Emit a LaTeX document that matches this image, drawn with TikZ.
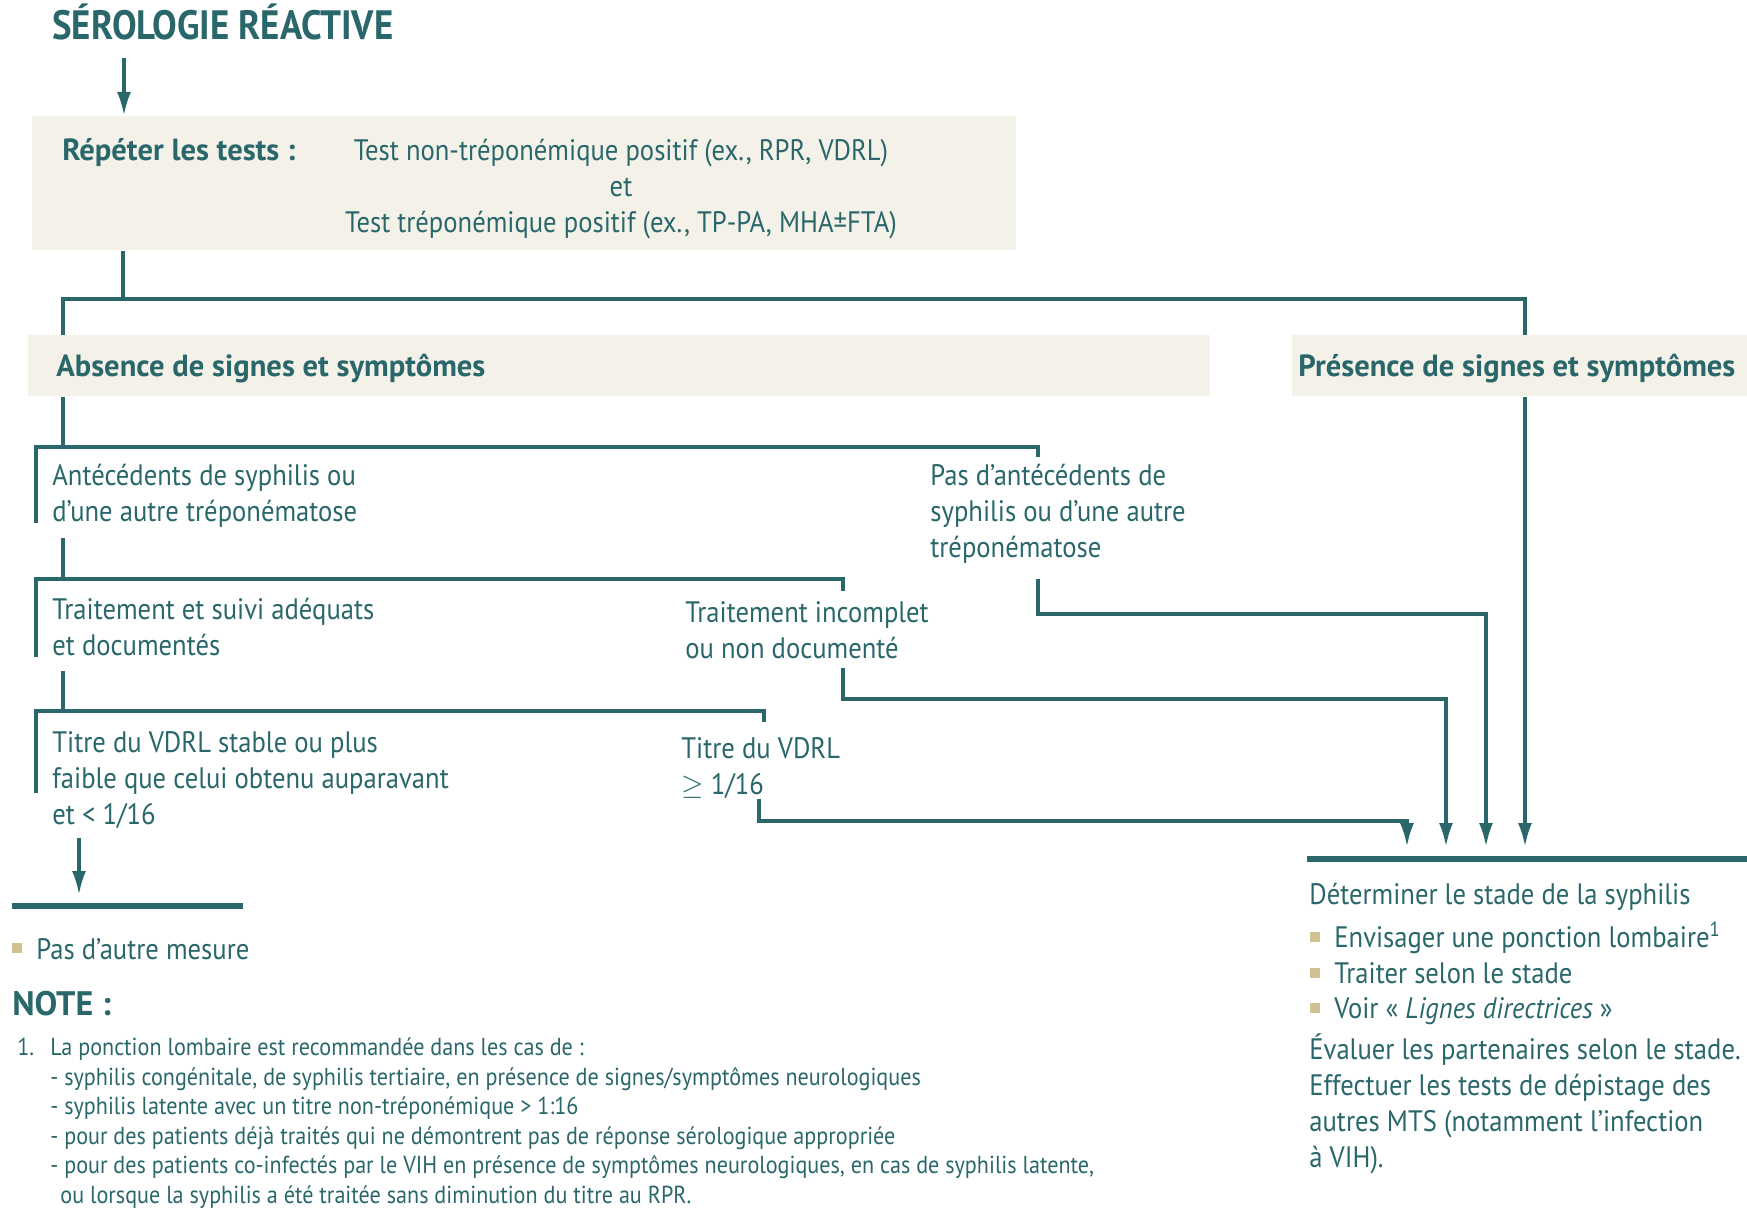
\documentclass[tikz,border=0pt]{standalone}
\usepackage{fontspec}
\setmainfont[FakeStretch=0.9]{PT Sans}
\newfontfamily\grasfont{PT Sans}
\usetikzlibrary{arrows.meta}
\definecolor{sero}{RGB}{41,103,106}
\definecolor{boxfill}{RGB}{244,241,233}
\definecolor{tan}{RGB}{207,193,145}

\begin{document}
\begin{tikzpicture}[x=0.5pt,y=-0.5pt,
    line/.style={sero, line width=1.8pt},
    bar/.style={sero, line width=2.8pt},
    fleche/.style={line, -{Latex[length=12pt,width=7pt]}},
    txt/.style={text=sero, anchor=base west, align=left, inner sep=0pt,
      font=\fontsize{14.8}{18}\selectfont},
    gras/.style={txt, font=\fontsize{15.3}{18}\selectfont\grasfont\bfseries},
    titre/.style={txt, font=\fontsize{20.5}{24}\selectfont\bfseries},
    note/.style={txt, font=\fontsize{12.3}{14.75}\selectfont},
    fond/.style={fill=boxfill, anchor=north west, inner sep=0pt},
    puce/.style={fill=tan, minimum size=5pt, inner sep=0pt}]
  \useasboundingbox (0,0) rectangle (1747,1208);

  % Titre et premier cadre
  \node[titre] (sero) at (52,40) {SÉROLOGIE RÉACTIVE};
  \node[fond, minimum width=492pt, minimum height=67pt] (repeter) at (32,116) {};
  \node[gras] (repeterlbl) at (62,161) {Répéter les tests :};
  \node[txt, anchor=base, align=center] (tests) at (621,233)
    {Test non-tréponémique positif (ex., RPR, VDRL)\\et\\Test tréponémique positif (ex., TP-PA, MHA±FTA)};
  \coordinate (d0) at (124,58);
  \draw[fleche] (d0) -- (d0 |- repeter.north);

  % Absence / presence
  \node[fond, minimum width=591pt, minimum height=30.5pt] (absence) at (28,335) {};
  \node[fond, minimum width=227.5pt, minimum height=30.5pt] (presence) at (1292,335) {};
  \node[gras] (absencelbl) at (56,377) {Absence de signes et symptômes};
  \node[gras] (presencelbl) at (1298,377) {Présence de signes et symptômes};
  \coordinate (d1) at (123,299);
  \coordinate (g1) at (63,299);
  \coordinate (r1) at (1525,299);
  \draw[line] (repeter.south -| d1) -- (d1);
  \draw[line] (absence.north -| g1) -- (g1) -- (r1) -- (presence.north -| r1);

  % Antecedents
  \coordinate (g2) at (63,447);
  \coordinate (b2g) at (36,447);
  \coordinate (b2d) at (1038,447);
  \draw[line] (absence.south -| g2) -- (g2);
  \draw[line] ([yshift=-38]b2g) -- (b2g) -- (b2d) -- ++(0,10);
  \node[txt] (antec) at (52,522) {Antécédents de syphilis ou\\d'une autre tréponématose};
  \node[txt] (pasantec) at (930,558) {Pas d'antécédents de\\syphilis ou d'une autre\\tréponématose};

  % Traitement
  \coordinate (g3) at (63,538);
  \coordinate (b3g) at (36,579);
  \coordinate (b3d) at (843,579);
  \draw[line] (g3) -- (g3 |- b3g);
  \draw[line] ([yshift=-39]b3g) -- (b3g) -- (b3d) -- ++(0,12);
  \node[txt] (adequat) at (52,655) {Traitement et suivi adéquats\\et documentés};
  \node[txt] (incomplet) at (685,659) {Traitement incomplet\\ou non documenté};

  % Titre du VDRL
  \coordinate (g4) at (63,671);
  \coordinate (b4g) at (36,711);
  \coordinate (b4d) at (764,711);
  \draw[line] (g4) -- (g4 |- b4g);
  \draw[line] ([yshift=-41]b4g) -- (b4g) -- (b4d) -- ++(0,11);
  \node[txt] (stable) at (52,824) {Titre du VDRL stable ou plus\\faible que celui obtenu auparavant\\et < 1/16};
  \node[txt] (eleve) at (681,794) {Titre du VDRL\\$\geq$ 1/16};

  % Pas d'autre mesure
  \coordinate (d5) at (79,838);
  \coordinate (d6) at (79,895);
  \coordinate (bar1g) at (12,906);
  \coordinate (bar1d) at (243,906);
  \draw[fleche] (d5) -- (d6);
  \draw[bar] (bar1g) -- (bar1d);
  \node[puce] (p0) at (17,948) {};
  \node[txt] (mesure) at (36,959) {Pas d'autre mesure};

  % Vers le stade
  \coordinate (s1) at (1407,847);
  \coordinate (s2) at (1446,847);
  \coordinate (s3) at (1486,847);
  \coordinate (s4) at (1525,847);
  \coordinate (e1) at (759,799);
  \coordinate (e2) at (843,668);
  \coordinate (e3) at (1038,579);
  \draw[fleche] (e1) -- ++(0,22) -| (s1);
  \draw[fleche] (e2) -- ++(0,31) -| (s2);
  \draw[fleche] (e3) -- ++(0,35) -| (s3);
  \draw[fleche] (presence.south -| s4) -- (s4);
  \coordinate (bar2g) at (1307,859);
  \coordinate (bar2d) at (1747,859);
  \draw[bar] (bar2g) -- (bar2d);

  \node[txt] (stade) at (1309,904) {Déterminer le stade de la syphilis};
  \node[puce] (p1) at (1315,937) {};
  \node[puce] (p2) at (1315,973) {};
  \node[puce] (p3) at (1315,1008) {};
  \node[txt] (lombaire) at (1334,947) {Envisager une ponction lombaire\textsuperscript{1}};
  \node[txt] (traiter) at (1334,983) {Traiter selon le stade};
  \node[txt] (voir) at (1334,1018) {Voir «~\textit{Lignes directrices}~»};
  \node[txt] (evaluer) at (1309,1167) {Évaluer les partenaires selon le stade.\\Effectuer les tests de dépistage des\\autres MTS (notamment l'infection\\à VIH).};

  % Note
  \node[gras, font=\fontsize{17}{20}\selectfont\grasfont\bfseries] (notelbl) at (12,1015) {NOTE :};
  \node[note] (num) at (17,1055) {1.};
  \node[note] (notetxt) at (50,1203) {La ponction lombaire est recommandée dans les cas de :\\
    - syphilis congénitale, de syphilis tertiaire, en présence de signes/symptômes neurologiques\\
    - syphilis latente avec un titre non-tréponémique > 1:16\\
    - pour des patients déjà traités qui ne démontrent pas de réponse sérologique appropriée\\
    - pour des patients co-infectés par le VIH en présence de symptômes neurologiques, en cas de syphilis latente,\\
    \hspace*{5pt}ou lorsque la syphilis a été traitée sans diminution du titre au RPR.};
\end{tikzpicture}
\end{document}
